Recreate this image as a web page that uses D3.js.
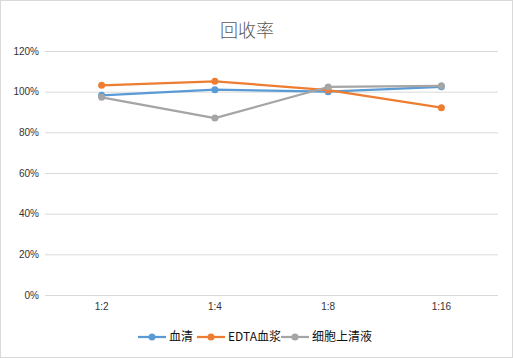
<!DOCTYPE html>
<html><head><meta charset="utf-8">
<script src="https://cdn.jsdelivr.net/npm/d3@7"></script>
<style>body{margin:0;background:#fff}svg{display:block}text{font-family:"Liberation Sans","Noto Sans CJK SC",sans-serif}</style>
</head><body><svg id="c" width="513" height="358"></svg>
<script>
const categories = ["1:2","1:4","1:8","1:16"];
const seriesNames = ["血清","EDTA血浆","细胞上清液"];
const serum = [98.2, 101.0, 100.0, 102.4];
const edta = [103.1, 105.1, 100.8, 92.1];
const cell = [97.2, 87.0, 102.3, 102.9];
const yTicks = [0,20,40,60,80,100,120];
const colors = ["#5B9BD5","#ED7D31","#A5A5A5"];
const series = [serum, edta, cell];

const svg = d3.select("#c");
svg.append("rect").attr("x",0.5).attr("y",0.5).attr("width",512).attr("height",357)
  .attr("fill","#fff").attr("stroke","#d9d9d9");
const x = d3.scaleBand().domain(categories).range([45,498]);
const y = d3.scaleLinear().domain([0,120]).range([295,51]);

svg.append("text").attr("x",247).attr("y",37).attr("text-anchor","middle")
  .attr("font-size",18).attr("fill","#595959").attr("font-weight",300)
  .style("font-family","'Noto Sans CJK SC',sans-serif").text("回收率");

const gy = svg.append("g").attr("transform","translate(45,0)")
  .call(d3.axisLeft(y).tickValues(yTicks).tickSize(-453).tickFormat(d=>d+"%"));
gy.select(".domain").remove();
gy.selectAll("line").attr("stroke","#d9d9d9");
gy.selectAll("text").attr("fill","#333").attr("font-size",10).attr("x",-6);

const gx = svg.append("g").attr("transform","translate(0,295)")
  .call(d3.axisBottom(x).tickSize(0).tickPadding(8));
gx.select(".domain").remove();
gx.selectAll("text").attr("fill","#333").attr("font-size",10);

const line = d3.line().x((d,i)=>x(categories[i])+x.bandwidth()/2).y(d=>y(d));
series.forEach((s,k)=>{
  svg.append("path").datum(s).attr("d",line).attr("fill","none")
    .attr("stroke",colors[k]).attr("stroke-width",2.25).attr("stroke-linejoin","round");
  svg.selectAll(null).data(s).enter().append("circle")
    .attr("cx",(d,i)=>x(categories[i])+x.bandwidth()/2).attr("cy",d=>y(d))
    .attr("r",3.5).attr("fill",colors[k]);
});

const legX = [138,197,281];
seriesNames.forEach((n,k)=>{
  const g = svg.append("g").attr("transform",`translate(${legX[k]},337)`);
  g.append("line").attr("x1",0).attr("x2",28).attr("stroke",colors[k]).attr("stroke-width",2.25);
  g.append("circle").attr("cx",14).attr("r",3.5).attr("fill",colors[k]);
  g.append("text").attr("x",31).attr("y",4).attr("font-size",12).attr("fill","#111")
    .style("font-family","'Noto Sans CJK SC',sans-serif").text(n);
});
</script></body></html>
